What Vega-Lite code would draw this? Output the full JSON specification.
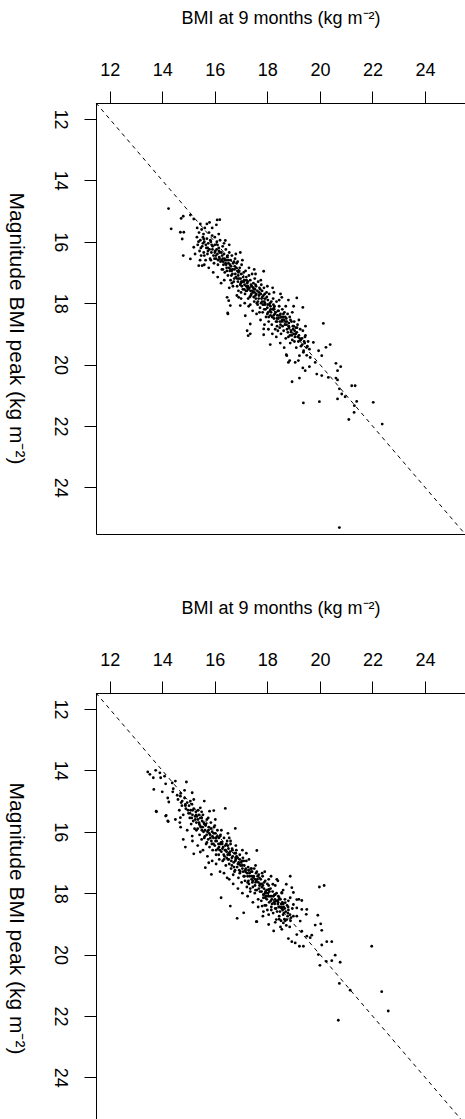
{
"$schema": "https://vega.github.io/schema/vega-lite/v6.json",
"padding": {"top": 8, "left": 4, "right": 0, "bottom": 0},
"background": "white",
"spacing": 61,
"config": {
  "view": {"stroke": "black", "strokeWidth": 1},
  "font": "Liberation Sans",
  "axis": {"domain": false, "grid": false, "tickColor": "black", "tickSize": 12, "tickWidth": 1,
    "labelColor": "black", "labelFont": "Liberation Sans", "labelFlush": false, "labelOverlap": false,
    "titleFont": "Liberation Sans", "titleFontWeight": "normal", "titleColor": "black"}
},
"datasets": {
"p1": [
{"x":14.24,"y":14.92},{"x":14.34,"y":15.58},{"x":14.72,"y":15.24},{"x":14.8,"y":15.17},{"x":15.07,"y":15.13},{"x":15.2,"y":15.26},{"x":15.45,"y":15.42},{"x":15.7,"y":15.42},{"x":15.8,"y":15.37},{"x":16.19,"y":15.28},{"x":16.06,"y":15.45},{"x":14.69,"y":15.69},{"x":14.82,"y":15.69},{"x":14.76,"y":15.91},{"x":14.8,"y":16.45},{"x":15.07,"y":16.56},{"x":15.2,"y":16.18},{"x":15.39,"y":16.78},{"x":15.52,"y":16.78},{"x":16.09,"y":15.29},{"x":16.4,"y":15.96},{"x":16.97,"y":16.35},{"x":17.86,"y":16.96},{"x":18.55,"y":17.81},
{"x":16.47,"y":17.81},{"x":16.5,"y":18.35},{"x":17.23,"y":18.9},{"x":17.27,"y":19.06},{"x":18.11,"y":19.35},{"x":17.86,"y":19.03},{"x":18.74,"y":19.71},{"x":18.8,"y":19.93},{"x":16.53,"y":17.92},{"x":16.59,"y":18.08},{"x":16.49,"y":18.32},{"x":16.91,"y":17.81},{"x":16.97,"y":18.08},{"x":17.16,"y":18.41},{"x":17.35,"y":18.68},{"x":17.35,"y":19.0},{"x":17.86,"y":18.84},
{"x":19.12,"y":17.83},{"x":19.35,"y":18.14},{"x":20.13,"y":18.66},
{"x":20.39,"y":19.35},{"x":20.23,"y":19.44},{"x":20.07,"y":19.71},{"x":19.95,"y":19.55},{"x":19.75,"y":19.28},{"x":19.5,"y":19.44},{"x":19.82,"y":19.93},{"x":19.88,"y":20.31},{"x":20.07,"y":20.36},{"x":20.32,"y":20.42},{"x":20.61,"y":19.96},{"x":20.79,"y":20.07},{"x":20.67,"y":20.2},{"x":20.61,"y":20.44},{"x":20.67,"y":20.5},{"x":20.74,"y":20.79},{"x":20.83,"y":20.96},{"x":20.67,"y":21.12},{"x":20.96,"y":21.05},{"x":21.21,"y":20.69},{"x":21.34,"y":20.69},{"x":21.4,"y":21.2},{"x":21.31,"y":21.34},{"x":21.3,"y":21.56},{"x":21.1,"y":21.79},{"x":22.03,"y":21.23},{"x":22.37,"y":21.94},{"x":19.37,"y":21.25},{"x":19.98,"y":21.21},{"x":18.94,"y":20.56},{"x":19.22,"y":20.44},{"x":18.72,"y":19.68},{"x":18.85,"y":19.87},{"x":19.06,"y":19.93},{"x":19.18,"y":19.87},{"x":19.35,"y":20.11},{"x":19.44,"y":20.2},{"x":19.6,"y":20.07},{"x":19.63,"y":19.77},{"x":19.37,"y":19.6},{"x":19.22,"y":19.71},
{"x":20.74,"y":25.31},
{"x":18.2,"y":17.5},{"x":18.8,"y":17.9},{"x":19.0,"y":18.1},{"x":17.5,"y":16.9},{"x":18.5,"y":17.7},{"x":15.58,"y":15.91},
{"x":15.32,"y":15.85},{"x":15.35,"y":16.1},{"x":15.4,"y":15.7},{"x":15.42,"y":16.3},{"x":15.45,"y":15.95},{"x":15.48,"y":16.45},{"x":15.5,"y":15.6},{"x":15.52,"y":16.15},{"x":15.55,"y":15.85},{"x":15.58,"y":16.35},{"x":15.6,"y":16.0},{"x":15.62,"y":15.55},{"x":15.65,"y":16.6},{"x":15.68,"y":16.2},
{"x":15.7,"y":15.9},{"x":15.72,"y":16.4},{"x":15.75,"y":16.05},{"x":15.78,"y":15.7},{"x":15.8,"y":16.25},{"x":15.82,"y":16.55},{"x":15.85,"y":16.0},{"x":15.87,"y":16.35},{"x":15.9,"y":15.8},{"x":15.92,"y":16.15},{"x":15.95,"y":16.45},{"x":15.97,"y":16.7},{"x":16.0,"y":16.1},{"x":16.0,"y":15.85},
{"x":16.02,"y":16.3},{"x":16.05,"y":16.55},{"x":16.08,"y":16.0},{"x":16.1,"y":16.4},{"x":16.12,"y":16.75},{"x":16.15,"y":16.2},{"x":16.17,"y":16.5},{"x":16.2,"y":15.95},{"x":16.22,"y":16.65},{"x":16.25,"y":16.35},{"x":16.27,"y":16.9},{"x":16.3,"y":16.15},{"x":16.3,"y":16.55},
{"x":16.33,"y":16.75},{"x":16.35,"y":16.4},{"x":16.38,"y":17.0},{"x":16.4,"y":16.6},{"x":16.42,"y":16.25},{"x":16.45,"y":16.85},{"x":16.47,"y":16.5},{"x":16.5,"y":17.1},{"x":16.52,"y":16.7},{"x":16.55,"y":16.35},{"x":16.57,"y":16.95},{"x":16.6,"y":16.6},{"x":16.6,"y":17.25},
{"x":16.62,"y":16.8},{"x":16.65,"y":16.45},{"x":16.67,"y":17.05},{"x":16.7,"y":16.7},{"x":16.72,"y":17.3},{"x":16.75,"y":16.9},{"x":16.77,"y":16.55},{"x":16.8,"y":17.15},{"x":16.82,"y":16.85},{"x":16.85,"y":17.45},{"x":16.87,"y":16.65},{"x":16.9,"y":17.0},{"x":16.9,"y":17.6},
{"x":16.92,"y":17.2},{"x":16.95,"y":16.85},{"x":16.97,"y":17.4},{"x":17.0,"y":17.05},{"x":17.02,"y":16.75},{"x":17.05,"y":17.3},{"x":17.07,"y":17.55},{"x":17.1,"y":17.0},{"x":17.12,"y":17.25},{"x":17.15,"y":17.7},{"x":17.17,"y":16.95},{"x":17.2,"y":17.45},{"x":17.2,"y":17.15},
{"x":17.22,"y":17.6},{"x":17.25,"y":17.3},{"x":17.27,"y":17.85},{"x":17.3,"y":17.1},{"x":17.32,"y":17.5},{"x":17.35,"y":17.25},{"x":17.37,"y":17.75},{"x":17.4,"y":17.45},{"x":17.42,"y":17.05},{"x":17.45,"y":17.65},{"x":17.47,"y":17.35},{"x":17.5,"y":17.95},{"x":17.5,"y":17.55},
{"x":17.52,"y":17.2},{"x":17.55,"y":17.75},{"x":17.57,"y":17.45},{"x":17.6,"y":18.0},{"x":17.62,"y":17.6},{"x":17.65,"y":17.3},{"x":17.67,"y":17.85},{"x":17.7,"y":17.5},{"x":17.72,"y":18.15},{"x":17.75,"y":17.7},{"x":17.77,"y":17.4},{"x":17.8,"y":17.95},{"x":17.8,"y":17.6},
{"x":17.82,"y":18.3},{"x":17.85,"y":17.75},{"x":17.87,"y":17.5},{"x":17.9,"y":18.05},{"x":17.92,"y":17.85},{"x":17.95,"y":18.45},{"x":17.97,"y":17.65},{"x":18.0,"y":18.15},{"x":18.02,"y":17.9},{"x":18.05,"y":18.6},{"x":18.07,"y":17.7},{"x":18.1,"y":18.25},{"x":18.1,"y":18.0},
{"x":18.12,"y":18.4},{"x":18.15,"y":17.95},{"x":18.17,"y":18.7},{"x":18.2,"y":18.2},{"x":18.22,"y":17.85},{"x":18.25,"y":18.5},{"x":18.27,"y":18.1},{"x":18.3,"y":18.85},{"x":18.32,"y":18.3},{"x":18.35,"y":17.95},{"x":18.37,"y":18.6},{"x":18.4,"y":18.25},
{"x":18.42,"y":18.5},{"x":18.45,"y":18.1},{"x":18.47,"y":18.8},{"x":18.5,"y":18.35},{"x":18.52,"y":19.0},{"x":18.55,"y":18.6},{"x":18.57,"y":18.2},{"x":18.6,"y":18.45},{"x":18.62,"y":18.9},{"x":18.65,"y":18.3},{"x":18.67,"y":18.7},{"x":18.7,"y":19.15},
{"x":18.72,"y":18.5},{"x":18.75,"y":18.85},{"x":18.77,"y":18.35},{"x":18.8,"y":19.1},{"x":18.82,"y":18.65},{"x":18.85,"y":18.45},{"x":18.87,"y":19.3},{"x":18.9,"y":18.9},{"x":18.92,"y":18.6},{"x":18.95,"y":19.2},{"x":18.97,"y":18.75},{"x":19.0,"y":19.0},
{"x":19.02,"y":18.6},{"x":19.05,"y":19.1},{"x":19.08,"y":18.8},{"x":19.1,"y":19.45},{"x":19.12,"y":18.95},{"x":19.15,"y":18.7},{"x":19.18,"y":19.25},{"x":19.2,"y":19.05},{"x":19.25,"y":18.85},{"x":19.28,"y":19.4},
{"x":19.32,"y":19.15},{"x":19.35,"y":18.9},{"x":19.38,"y":19.55},{"x":19.42,"y":19.3},{"x":19.45,"y":19.05},{"x":19.5,"y":19.7},{"x":19.55,"y":19.25},{"x":19.6,"y":19.5},
{"x":15.38,"y":16.0},{"x":15.47,"y":16.2},{"x":15.57,"y":15.75},{"x":15.66,"y":16.1},{"x":15.74,"y":16.3},{"x":15.83,"y":15.95},{"x":15.91,"y":16.25},{"x":15.99,"y":16.55},{"x":16.07,"y":16.25},{"x":16.13,"y":16.6},{"x":16.19,"y":16.35},{"x":16.26,"y":16.6},{"x":16.31,"y":16.9},{"x":16.37,"y":16.55},{"x":16.43,"y":16.75},{"x":16.49,"y":16.45},{"x":16.54,"y":16.85},{"x":16.58,"y":16.75},{"x":16.63,"y":17.1},{"x":16.68,"y":16.9},{"x":16.73,"y":16.65},{"x":16.78,"y":17.05},{"x":16.83,"y":16.7},{"x":16.88,"y":17.3},{"x":16.93,"y":16.95},{"x":16.98,"y":17.2},{"x":17.03,"y":17.45},{"x":17.08,"y":17.15},{"x":17.13,"y":17.4},{"x":17.18,"y":17.6},{"x":17.23,"y":17.35},{"x":17.28,"y":17.55},{"x":17.33,"y":17.8},{"x":17.38,"y":17.4},{"x":17.43,"y":17.6},{"x":17.48,"y":17.8},{"x":17.53,"y":17.55},{"x":17.58,"y":17.7},{"x":17.63,"y":18.05},{"x":17.68,"y":17.75},{"x":17.73,"y":17.55},{"x":17.78,"y":17.85},{"x":17.83,"y":18.05},{"x":17.88,"y":17.95},{"x":17.93,"y":18.2},{"x":17.98,"y":17.8},{"x":18.03,"y":18.3},{"x":18.08,"y":18.05},{"x":18.13,"y":18.2},{"x":18.18,"y":18.45},{"x":18.23,"y":18.05},{"x":18.28,"y":18.35},{"x":18.33,"y":18.6},{"x":18.38,"y":18.4},{"x":18.43,"y":18.25},{"x":18.48,"y":18.6},{"x":18.53,"y":18.45},{"x":18.58,"y":18.75},{"x":18.63,"y":18.55},{"x":18.68,"y":18.45},{"x":18.73,"y":18.7},{"x":18.78,"y":18.95},{"x":18.83,"y":18.8},{"x":18.88,"y":18.55},{"x":18.93,"y":19.05},{"x":18.98,"y":18.85},{"x":19.03,"y":19.25},{"x":19.08,"y":19.0},{"x":19.13,"y":18.8},{"x":19.23,"y":19.15},{"x":19.33,"y":19.35},{"x":19.43,"y":19.1},
{"x":15.25,"y":16.4},{"x":15.33,"y":15.55},{"x":15.44,"y":16.6},{"x":15.6,"y":16.75},{"x":15.77,"y":16.85},{"x":15.94,"y":17.0},{"x":16.11,"y":17.15},{"x":16.24,"y":17.35},{"x":16.36,"y":17.25},{"x":16.55,"y":17.5},{"x":16.69,"y":17.45},{"x":16.84,"y":17.75},{"x":17.0,"y":17.85},{"x":17.14,"y":18.0},{"x":17.29,"y":18.1},{"x":17.44,"y":18.25},{"x":17.59,"y":18.35},{"x":17.74,"y":18.55},{"x":17.89,"y":18.7},{"x":18.04,"y":18.85},{"x":18.19,"y":19.0},{"x":18.34,"y":19.1},{"x":18.49,"y":19.3},{"x":18.64,"y":19.45},
{"x":15.9,"y":15.55},{"x":16.15,"y":15.75},{"x":16.35,"y":16.05},{"x":16.55,"y":16.1},{"x":16.8,"y":16.4},{"x":17.05,"y":16.6},{"x":17.3,"y":16.85},{"x":17.55,"y":17.05},{"x":17.75,"y":17.25},{"x":18.0,"y":17.45},{"x":18.25,"y":17.65},{"x":18.45,"y":17.9},{"x":18.7,"y":18.1},{"x":18.95,"y":18.3},{"x":19.2,"y":18.55},{"x":19.45,"y":18.75},
{"x":15.55,"y":16.05},{"x":15.73,"y":16.2},{"x":15.88,"y":16.1},{"x":16.04,"y":16.45},{"x":16.16,"y":16.3},{"x":16.28,"y":16.45},{"x":16.41,"y":16.7},{"x":16.52,"y":16.6},{"x":16.64,"y":16.95},{"x":16.76,"y":16.8},{"x":16.89,"y":17.1},{"x":17.01,"y":17.3},{"x":17.11,"y":17.3},{"x":17.24,"y":17.5},{"x":17.36,"y":17.6},{"x":17.46,"y":17.5},{"x":17.56,"y":17.85},{"x":17.69,"y":17.65},{"x":17.81,"y":17.8},{"x":17.91,"y":18.0},{"x":18.01,"y":18.05},{"x":18.14,"y":18.3},{"x":18.26,"y":18.2},{"x":18.36,"y":18.5},{"x":18.46,"y":18.4},{"x":18.56,"y":18.55},{"x":18.69,"y":18.6},{"x":18.81,"y":18.75},{"x":18.91,"y":18.95},{"x":19.04,"y":18.9},{"x":19.16,"y":19.1},{"x":19.27,"y":19.2},{"x":19.4,"y":19.25},{"x":19.52,"y":19.4},
{"x":16.0,"y":16.35},{"x":16.18,"y":16.55},{"x":16.32,"y":16.65},{"x":16.46,"y":16.95},{"x":16.6,"y":16.9},{"x":16.74,"y":17.2},{"x":16.86,"y":16.95},{"x":16.99,"y":17.35},{"x":17.12,"y":17.55},{"x":17.26,"y":17.45},{"x":17.39,"y":17.7},{"x":17.51,"y":17.65},{"x":17.64,"y":17.95},{"x":17.76,"y":18.0},{"x":17.88,"y":18.2},{"x":18.0,"y":18.35},{"x":18.12,"y":18.1},{"x":18.24,"y":18.4},{"x":18.37,"y":18.75},{"x":18.5,"y":18.7},{"x":18.61,"y":18.35},{"x":18.74,"y":18.6},{"x":18.86,"y":19.05},{"x":19.0,"y":18.75},{"x":16.1,"y":16.1},{"x":16.45,"y":16.6},{"x":16.85,"y":17.2},{"x":17.2,"y":17.25},{"x":17.55,"y":17.4},{"x":17.9,"y":17.7},{"x":18.25,"y":18.15},{"x":18.6,"y":18.55},{"x":17.7,"y":18.3},{"x":17.35,"y":18.05},{"x":17.0,"y":17.65},{"x":16.65,"y":17.35},{"x":18.05,"y":18.45},{"x":18.4,"y":18.9},{"x":15.85,"y":16.6},{"x":15.6,"y":16.45}
],
"p2": [
{"x":13.45,"y":14.05},{"x":13.53,"y":14.13},{"x":13.66,"y":14.24},{"x":13.75,"y":14.0},{"x":13.91,"y":14.08},{"x":13.94,"y":14.24},{"x":14.09,"y":14.19},{"x":14.13,"y":14.44},{"x":13.68,"y":14.62},{"x":14.0,"y":14.7},{"x":14.38,"y":14.41},{"x":14.5,"y":14.35},{"x":14.42,"y":14.6},{"x":14.92,"y":14.38},{"x":14.57,"y":14.81},{"x":14.21,"y":14.9},{"x":14.25,"y":15.03},{"x":14.69,"y":14.84},{"x":14.76,"y":15.0},{"x":15.14,"y":14.73},{"x":15.07,"y":15.0},{"x":14.88,"y":15.11},{"x":13.78,"y":15.35},{"x":14.13,"y":15.49},{"x":14.21,"y":15.65},{"x":14.67,"y":15.7},{"x":14.69,"y":15.54},{"x":16.4,"y":15.24},{"x":15.6,"y":15.0},{"x":15.45,"y":15.22},{"x":15.96,"y":15.31},{"x":15.8,"y":15.33},{"x":16.02,"y":15.6},{"x":16.78,"y":15.89},{"x":14.8,"y":16.25},{"x":14.88,"y":16.5},{"x":15.14,"y":16.14},{"x":15.2,"y":16.72},{"x":15.45,"y":16.66},{"x":15.77,"y":17.01},{"x":15.87,"y":17.39},{"x":16.24,"y":18.15},{"x":16.47,"y":17.5},{"x":15.64,"y":17.17},{"x":13.77,"y":15.33},{"x":14.15,"y":15.47},{"x":14.23,"y":15.67},{"x":16.59,"y":18.42},{"x":16.85,"y":18.82},{"x":17.1,"y":18.64},{"x":17.58,"y":18.93},{"x":18.24,"y":19.23},
{"x":17.6,"y":16.61},{"x":18.87,"y":17.45},{"x":19.98,"y":17.8},{"x":20.16,"y":17.75},{"x":21.97,"y":19.73},{"x":22.35,"y":21.21},{"x":22.6,"y":21.84},{"x":20.7,"y":22.14},{"x":20.74,"y":20.94},{"x":21.15,"y":21.16},{"x":20.77,"y":20.25},{"x":20.58,"y":20.02},{"x":20.45,"y":20.2},{"x":20.24,"y":20.22},{"x":20.0,"y":20.35},{"x":19.94,"y":20.0},{"x":20.07,"y":19.69},{"x":20.26,"y":19.58},{"x":20.45,"y":19.58},{"x":20.07,"y":19.21},{"x":20.03,"y":19.0},{"x":19.92,"y":18.72},{"x":19.82,"y":19.04},{"x":19.69,"y":19.37},{"x":19.63,"y":19.45},{"x":19.5,"y":19.4},{"x":19.37,"y":19.73},{"x":19.22,"y":19.73},{"x":19.06,"y":19.62},{"x":18.93,"y":19.58},{"x":18.8,"y":19.48},{"x":19.12,"y":19.35},{"x":19.31,"y":19.24},{"x":19.25,"y":18.91},{"x":19.12,"y":18.75},{"x":19.48,"y":18.69},{"x":19.5,"y":18.53},{"x":19.31,"y":18.53},{"x":19.12,"y":18.48},{"x":18.99,"y":18.75},{"x":18.74,"y":18.86},{"x":18.61,"y":18.97},{"x":18.55,"y":19.18},{"x":17.6,"y":18.93},{"x":18.05,"y":19.02},{"x":18.34,"y":18.86},{"x":17.83,"y":18.75},{"x":18.99,"y":18.37},{"x":19.31,"y":18.24},{"x":19.12,"y":18.21},{"x":18.87,"y":18.15},{"x":18.93,"y":17.82},{"x":18.72,"y":17.71},{"x":18.99,"y":17.98},{"x":18.55,"y":17.98},{"x":18.68,"y":18.31},{"x":18.43,"y":18.21},{"x":18.36,"y":17.55},{"x":18.21,"y":17.71},{"x":18.14,"y":17.45},{"x":18.05,"y":17.88},{"x":17.92,"y":18.15},{"x":17.8,"y":18.42},{"x":17.86,"y":18.05},
{"x":17.2,"y":16.7},{"x":17.9,"y":17.3},{"x":18.4,"y":17.6},{"x":18.6,"y":17.9},{"x":19.2,"y":18.2},{"x":16.5,"y":16.05},
{"x":14.6,"y":14.95},{"x":14.65,"y":15.3},{"x":14.7,"y":14.75},{"x":14.75,"y":15.15},{"x":14.8,"y":15.45},{"x":14.85,"y":14.9},{"x":14.9,"y":15.25},{"x":14.95,"y":15.05},{"x":15.0,"y":15.4},
{"x":15.02,"y":15.15},{"x":15.05,"y":15.55},{"x":15.08,"y":15.3},{"x":15.1,"y":15.75},{"x":15.13,"y":15.1},{"x":15.15,"y":15.45},{"x":15.18,"y":15.65},{"x":15.2,"y":15.25},{"x":15.23,"y":15.9},{"x":15.25,"y":15.5},{"x":15.28,"y":15.35},{"x":15.3,"y":15.7},
{"x":15.32,"y":15.5},{"x":15.35,"y":15.9},{"x":15.37,"y":15.3},{"x":15.4,"y":15.7},{"x":15.42,"y":16.1},{"x":15.45,"y":15.55},{"x":15.47,"y":15.85},{"x":15.5,"y":16.25},{"x":15.52,"y":15.65},{"x":15.55,"y":15.45},{"x":15.57,"y":16.0},{"x":15.6,"y":15.75},
{"x":15.62,"y":16.15},{"x":15.65,"y":15.8},{"x":15.67,"y":16.4},{"x":15.7,"y":15.6},{"x":15.72,"y":16.0},{"x":15.75,"y":16.25},{"x":15.77,"y":15.85},{"x":15.8,"y":16.5},{"x":15.82,"y":16.1},{"x":15.85,"y":15.7},{"x":15.87,"y":16.3},{"x":15.9,"y":16.0},
{"x":15.92,"y":16.6},{"x":15.95,"y":16.2},{"x":15.97,"y":15.85},{"x":16.0,"y":16.45},{"x":16.02,"y":16.05},{"x":16.05,"y":16.75},{"x":16.07,"y":16.3},{"x":16.1,"y":15.95},{"x":16.12,"y":16.55},{"x":16.15,"y":16.2},{"x":16.17,"y":16.9},{"x":16.2,"y":16.4},
{"x":16.22,"y":16.1},{"x":16.25,"y":16.65},{"x":16.27,"y":16.35},{"x":16.3,"y":16.95},{"x":16.32,"y":16.5},{"x":16.35,"y":16.2},{"x":16.37,"y":16.8},{"x":16.4,"y":16.45},{"x":16.42,"y":17.1},{"x":16.45,"y":16.65},{"x":16.47,"y":16.3},{"x":16.5,"y":16.9},
{"x":16.52,"y":16.55},{"x":16.55,"y":17.05},{"x":16.57,"y":16.75},{"x":16.6,"y":16.4},{"x":16.62,"y":17.2},{"x":16.65,"y":16.85},{"x":16.67,"y":16.6},{"x":16.7,"y":17.4},{"x":16.72,"y":17.0},{"x":16.75,"y":16.7},{"x":16.77,"y":17.25},{"x":16.8,"y":16.9},
{"x":16.82,"y":16.6},{"x":16.85,"y":17.15},{"x":16.87,"y":16.85},{"x":16.9,"y":17.5},{"x":16.92,"y":17.05},{"x":16.95,"y":16.75},{"x":16.97,"y":17.3},{"x":17.0,"y":17.0},{"x":17.02,"y":17.65},{"x":17.05,"y":17.2},{"x":17.07,"y":16.85},{"x":17.1,"y":17.45},
{"x":17.12,"y":17.1},{"x":17.15,"y":17.6},{"x":17.17,"y":17.3},{"x":17.2,"y":16.95},{"x":17.22,"y":17.8},{"x":17.25,"y":17.45},{"x":17.27,"y":17.15},{"x":17.3,"y":17.7},{"x":17.32,"y":17.35},{"x":17.35,"y":17.95},{"x":17.37,"y":17.2},{"x":17.4,"y":17.55},
{"x":17.42,"y":17.3},{"x":17.45,"y":17.8},{"x":17.47,"y":17.5},{"x":17.5,"y":17.2},{"x":17.52,"y":18.0},{"x":17.55,"y":17.65},{"x":17.57,"y":17.35},{"x":17.6,"y":17.9},{"x":17.62,"y":17.55},{"x":17.65,"y":18.2},{"x":17.67,"y":17.4},{"x":17.7,"y":17.75},
{"x":17.72,"y":17.95},{"x":17.75,"y":17.55},{"x":17.77,"y":18.25},{"x":17.8,"y":17.7},{"x":17.82,"y":17.45},{"x":17.85,"y":18.05},{"x":17.87,"y":17.85},{"x":17.9,"y":18.4},{"x":17.92,"y":17.6},{"x":17.95,"y":18.1},{"x":17.97,"y":17.9},{"x":18.0,"y":18.55},
{"x":18.02,"y":18.0},{"x":18.05,"y":17.75},{"x":18.07,"y":18.3},{"x":18.1,"y":18.1},{"x":18.12,"y":17.85},{"x":18.15,"y":18.45},{"x":18.17,"y":18.2},{"x":18.2,"y":17.95},{"x":18.22,"y":18.65},{"x":18.25,"y":18.3},{"x":18.27,"y":18.05},{"x":18.3,"y":18.5},
{"x":18.32,"y":18.25},{"x":18.35,"y":18.0},{"x":18.37,"y":18.6},{"x":18.4,"y":18.35},{"x":18.42,"y":18.1},{"x":18.45,"y":18.75},{"x":18.47,"y":18.45},{"x":18.5,"y":18.2},{"x":18.52,"y":18.9},{"x":18.55,"y":18.5},{"x":18.57,"y":18.3},{"x":18.6,"y":18.7},
{"x":18.62,"y":18.45},{"x":18.65,"y":18.85},{"x":18.67,"y":18.2},{"x":18.7,"y":18.6},{"x":18.72,"y":19.05},{"x":18.75,"y":18.4},{"x":18.77,"y":18.75},{"x":18.8,"y":18.55},{"x":18.85,"y":19.1},{"x":18.9,"y":18.8},
{"x":14.72,"y":15.05},{"x":14.88,"y":15.15},{"x":15.06,"y":15.4},{"x":15.16,"y":15.3},{"x":15.26,"y":15.6},{"x":15.36,"y":15.6},{"x":15.44,"y":15.8},{"x":15.51,"y":15.95},{"x":15.58,"y":15.7},{"x":15.63,"y":15.95},{"x":15.69,"y":16.1},{"x":15.76,"y":15.95},{"x":15.83,"y":16.2},{"x":15.89,"y":16.4},{"x":15.96,"y":16.05},{"x":16.03,"y":16.3},{"x":16.09,"y":16.15},{"x":16.14,"y":16.4},{"x":16.19,"y":16.6},{"x":16.24,"y":16.35},{"x":16.29,"y":16.55},{"x":16.34,"y":16.75},{"x":16.39,"y":16.6},{"x":16.44,"y":16.4},{"x":16.49,"y":16.75},{"x":16.53,"y":16.9},{"x":16.58,"y":16.65},{"x":16.63,"y":16.95},{"x":16.68,"y":16.8},{"x":16.73,"y":17.15},{"x":16.78,"y":16.95},{"x":16.83,"y":16.8},{"x":16.88,"y":17.05},{"x":16.93,"y":17.25},{"x":16.98,"y":17.1},{"x":17.03,"y":16.95},{"x":17.08,"y":17.3},{"x":17.13,"y":17.45},{"x":17.18,"y":17.2},{"x":17.23,"y":17.35},{"x":17.28,"y":17.6},{"x":17.33,"y":17.45},{"x":17.38,"y":17.3},{"x":17.43,"y":17.65},{"x":17.48,"y":17.45},{"x":17.53,"y":17.75},{"x":17.58,"y":17.6},{"x":17.63,"y":17.45},{"x":17.68,"y":17.85},{"x":17.73,"y":17.7},{"x":17.78,"y":17.95},{"x":17.83,"y":17.75},{"x":17.88,"y":17.65},{"x":17.93,"y":17.95},{"x":17.98,"y":18.2},{"x":18.03,"y":18.1},{"x":18.08,"y":17.95},{"x":18.13,"y":18.25},{"x":18.18,"y":18.35},{"x":18.23,"y":18.1},{"x":18.28,"y":18.35},{"x":18.33,"y":18.5},{"x":18.38,"y":18.25},{"x":18.43,"y":18.45},{"x":18.48,"y":18.6},{"x":18.53,"y":18.35},{"x":18.58,"y":18.55},{"x":18.63,"y":18.65},{"x":18.68,"y":18.9},{"x":18.78,"y":18.65},{"x":18.88,"y":18.9},{"x":18.95,"y":18.5},
{"x":14.5,"y":15.6},{"x":14.7,"y":15.85},{"x":14.95,"y":15.95},{"x":15.15,"y":16.3},{"x":15.35,"y":16.45},{"x":15.55,"y":16.6},{"x":15.72,"y":16.8},{"x":15.9,"y":16.95},{"x":16.05,"y":17.05},{"x":16.2,"y":17.3},{"x":16.35,"y":17.35},{"x":16.55,"y":17.55},{"x":16.7,"y":17.7},{"x":16.88,"y":17.85},{"x":17.05,"y":18.0},{"x":17.25,"y":18.1},{"x":17.45,"y":18.3},{"x":17.65,"y":18.45},{"x":17.85,"y":18.6},{"x":18.05,"y":18.7},{"x":18.3,"y":18.95},{"x":18.5,"y":19.1},
{"x":14.4,"y":14.7},{"x":14.85,"y":14.65},{"x":15.2,"y":14.95},{"x":15.5,"y":15.35},{"x":15.75,"y":15.55},{"x":16.0,"y":15.8},{"x":16.25,"y":15.95},{"x":16.55,"y":16.2},{"x":16.8,"y":16.45},{"x":17.05,"y":16.6},{"x":17.3,"y":16.9},{"x":17.55,"y":17.1},{"x":17.8,"y":17.35},{"x":18.05,"y":17.55},{"x":18.3,"y":17.75},{"x":18.55,"y":18.0},{"x":18.8,"y":18.25},
{"x":14.98,"y":15.3},{"x":15.12,"y":15.55},{"x":15.29,"y":15.45},{"x":15.41,"y":15.75},{"x":15.54,"y":15.85},{"x":15.66,"y":15.75},{"x":15.79,"y":16.05},{"x":15.91,"y":16.15},{"x":16.04,"y":16.2},{"x":16.16,"y":16.5},{"x":16.28,"y":16.4},{"x":16.41,"y":16.6},{"x":16.54,"y":16.7},{"x":16.66,"y":16.55},{"x":16.79,"y":16.85},{"x":16.91,"y":17.0},{"x":17.04,"y":17.1},{"x":17.16,"y":17.25},{"x":17.29,"y":17.25},{"x":17.41,"y":17.45},{"x":17.54,"y":17.55},{"x":17.66,"y":17.65},{"x":17.79,"y":17.8},{"x":17.91,"y":18.0},{"x":18.04,"y":17.9},{"x":18.16,"y":18.1},{"x":18.29,"y":18.2},{"x":18.41,"y":18.3},{"x":18.54,"y":18.45},{"x":18.66,"y":18.5},{"x":18.79,"y":18.45},{"x":18.86,"y":18.7},
{"x":15.3,"y":15.95},{"x":15.5,"y":15.55},{"x":15.7,"y":16.35},{"x":15.85,"y":15.9},{"x":16.05,"y":16.6},{"x":16.2,"y":16.15},{"x":16.35,"y":16.9},{"x":16.5,"y":16.45},{"x":16.65,"y":17.1},{"x":16.8,"y":16.7},{"x":16.95,"y":17.35},{"x":17.1,"y":16.95},{"x":17.25,"y":17.65},{"x":17.4,"y":17.2},{"x":17.55,"y":17.9},{"x":17.7,"y":17.5},{"x":17.85,"y":18.15},{"x":18.0,"y":17.7},{"x":18.15,"y":18.55},{"x":18.3,"y":18.05},{"x":18.45,"y":18.85},{"x":18.6,"y":18.35},{"x":15.4,"y":15.45},{"x":15.95,"y":16.4},{"x":16.45,"y":16.85},{"x":16.95,"y":16.9},{"x":17.45,"y":17.6},{"x":17.95,"y":18.0},{"x":18.45,"y":18.15},{"x":16.15,"y":16.75},{"x":16.75,"y":17.3},{"x":17.35,"y":17.85},{"x":17.95,"y":18.4},{"x":15.6,"y":16.2},{"x":16.6,"y":16.3},{"x":17.6,"y":17.3}
],
"diag": [{"x": 11.48, "y": 11.48}, {"x": 25.52, "y": 25.52}]
},
"vconcat": [
{
  "width": 369, "height": 431,
  "encoding": {
    "x": {"field": "x", "type": "quantitative", "scale": {"domain": [11.48, 25.52], "nice": false, "zero": false},
      "axis": {"orient": "top", "title": "BMI at 9 months (kg m⁻²)", "values": [12, 14, 16, 18, 20, 22, 24], "labelFontSize": 18, "labelBaseline": "alphabetic", "labelPadding": 16, "titleFontSize": 18, "titlePadding": 34}},
    "y": {"field": "y", "type": "quantitative", "scale": {"domain": [11.48, 25.52], "nice": false, "zero": false, "reverse": true},
      "axis": {"orient": "left", "title": "Magnitude BMI peak (kg m⁻²)", "values": [12, 14, 16, 18, 20, 22, 24], "labelFontSize": 18, "labelAngle": 90, "labelAlign": "center", "labelBaseline": "middle", "labelPadding": 25, "titleFontSize": 21, "titleAngle": 90, "titleBaseline": "top", "titleAlign": "center", "titleX": -70, "titleY": 225}}
  },
  "layer": [
    {"data": {"name": "diag"}, "mark": {"type": "line", "color": "black", "strokeWidth": 1, "strokeDash": [4, 4]}},
    {"data": {"name": "p1"}, "mark": {"type": "point", "shape": "circle", "filled": true, "size": 8, "color": "black", "opacity": 1}}
  ]
},
{
  "width": 369, "height": 431,
  "encoding": {
    "x": {"field": "x", "type": "quantitative", "scale": {"domain": [11.48, 25.52], "nice": false, "zero": false},
      "axis": {"orient": "top", "title": "BMI at 9 months (kg m⁻²)", "values": [12, 14, 16, 18, 20, 22, 24], "labelFontSize": 18, "labelBaseline": "alphabetic", "labelPadding": 16, "titleFontSize": 18, "titlePadding": 34}},
    "y": {"field": "y", "type": "quantitative", "scale": {"domain": [11.48, 25.52], "nice": false, "zero": false, "reverse": true},
      "axis": {"orient": "left", "title": "Magnitude BMI peak (kg m⁻²)", "values": [12, 14, 16, 18, 20, 22, 24], "labelFontSize": 18, "labelAngle": 90, "labelAlign": "center", "labelBaseline": "middle", "labelPadding": 25, "titleFontSize": 21, "titleAngle": 90, "titleBaseline": "top", "titleAlign": "center", "titleX": -70, "titleY": 225}}
  },
  "layer": [
    {"data": {"name": "diag"}, "mark": {"type": "line", "color": "black", "strokeWidth": 1, "strokeDash": [4, 4]}},
    {"data": {"name": "p2"}, "mark": {"type": "point", "shape": "circle", "filled": true, "size": 8, "color": "black", "opacity": 1}}
  ]
}
]
}
